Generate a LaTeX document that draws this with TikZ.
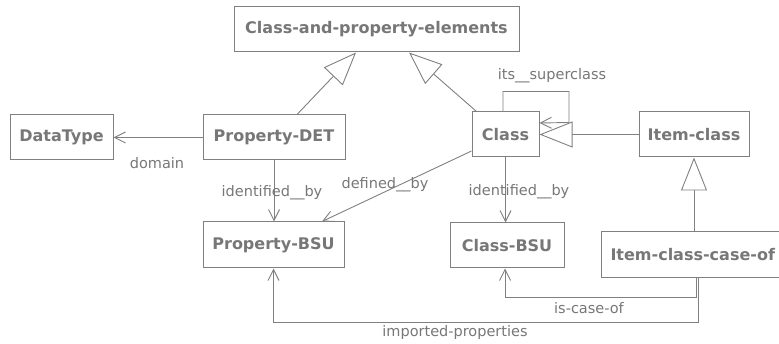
\documentclass[tikz,border=0pt]{standalone}
\usepackage{fontspec}
\setmainfont{DejaVu Sans}
\usetikzlibrary{arrows.meta,calc}
\definecolor{umlgray}{HTML}{808080}
\definecolor{txtgray}{HTML}{777777}
\tikzset{
  cls/.style={draw=umlgray, line width=1pt, fill=white, text=txtgray,
    font=\fontsize{16}{18}\selectfont\bfseries, minimum height=45pt, inner sep=0pt},
  lbl/.style={text=txtgray, font=\fontsize{14.5}{16}\selectfont, inner sep=0pt},
  assoc/.style={draw=umlgray, line width=0.9pt, -{Straight Barb[length=11pt,width=11pt,line width=0.9pt]}},
  gen/.style={draw=umlgray, line width=0.9pt, -{Triangle[open, length=33pt, width=26pt, line width=0.9pt, fill=white]}},
}
\begin{document}
\begin{tikzpicture}[x=1pt,y=-1pt]
\useasboundingbox (0,0) rectangle (779,344);
\clip (0,0) rectangle (779,344);
\fill[white] (0,0) rectangle (779,344);
% classes
\node[cls, minimum width=285pt] (cpe) at (376.5,29.5) {Class-and-property-elements};
\node[cls, minimum width=103pt] (dt) at (61.5,137.5) {DataType};
\node[cls, minimum width=142pt] (pdet) at (274,137.5) {Property-DET};
\node[cls, minimum width=67pt] (cl) at (505.5,134.5) {Class};
\node[cls, minimum width=110pt] (ic) at (694,134.5) {Item-class};
\node[cls, minimum width=141pt, minimum height=46pt] (pbsu) at (273.5,245) {Property-BSU};
\node[cls, minimum width=114pt] (cbsu) at (507,245.5) {Class-BSU};
\node[cls, anchor=west, minimum height=46pt, inner xsep=9pt, align=left, text width=232pt] (iccof) at (601,255) {Item-class-case-of};
% generalizations
\draw[gen] ([xshift=23pt]pdet.north) -- ([xshift=-20.5pt]cpe.south);
\draw[gen] ([xshift=5pt]cl.north west) -- ([xshift=32.5pt]cpe.south);
\draw[gen] (ic.west) -- (cl.east);
\draw[gen] (iccof.north -| ic.south) -- (ic.south);
% associations
\draw[assoc] (pdet.west) -- (dt.east);
\draw[assoc] ([xshift=-2.5pt]cl.north) -- ++(0,-20) -- ++(66,0) -- ++(0,31) -- ([yshift=11.5pt]cl.east);
\draw[assoc] (pdet.south) -- (pdet.south |- pbsu.north);
\draw[assoc] (cl.south) -- (cl.south |- cbsu.north);
\draw[assoc] ([yshift=-16.5pt]cl.west) -- ([xshift=48.5pt]pbsu.north);
\coordinate (icstart) at ($(ic.south |- iccof.south)+(2,0)$);
\coordinate (ipstart) at ($(ic.south |- iccof.south)+(4,0)$);
\draw[assoc] (icstart) -- ++(0,19) -| ([xshift=-2pt]cbsu.south);
\draw[assoc] (ipstart) -- ++(0,44) -| (pbsu.south);
% labels
\node[lbl] (ldomain) at (157,163) {domain};
\node[lbl] (lsuper) at (552,76) {its\_\_superclass};
\node[lbl] (lidp) at (272,193) {identified\_\_by};
\node[lbl] (ldef) at (385,185) {defined\_\_by};
\node[lbl] (lidc) at (519,192) {identified\_\_by};
\node[lbl] (lcase) at (589,308) {is-case-of};
\node[lbl] (limp) at (455,333) {imported-properties};
\end{tikzpicture}
\end{document}
